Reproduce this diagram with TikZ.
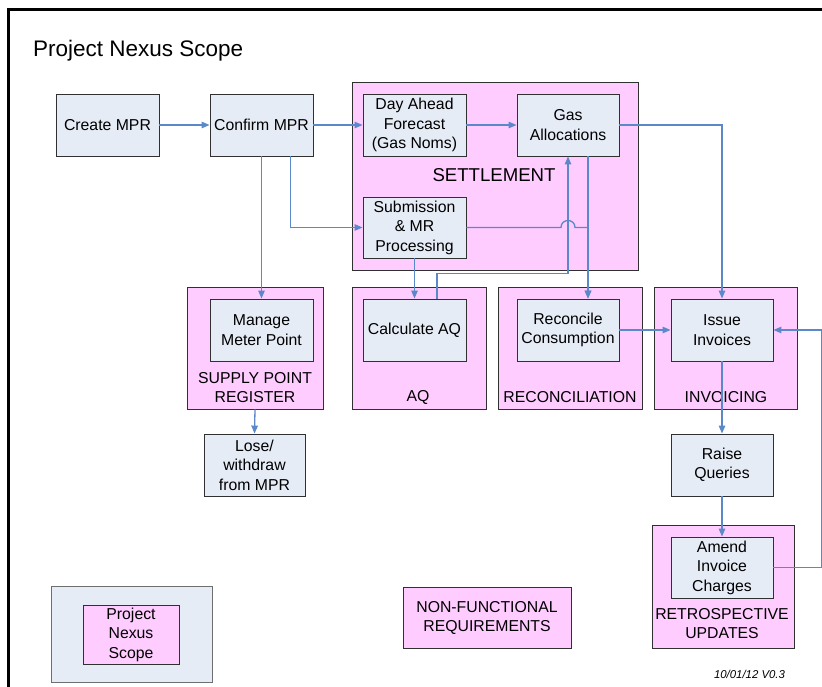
\documentclass[tikz,border=0pt]{standalone}
\usepackage{fontspec}
\setmainfont{Liberation Sans}
\usetikzlibrary{arrows.meta}
\definecolor{pinkfill}{HTML}{FFCCFF}
\definecolor{bluefill}{HTML}{E6ECF6}
\definecolor{conncol}{HTML}{5B88C8}
\definecolor{boxline}{HTML}{303030}
\begin{document}
\begin{tikzpicture}[x=1pt,y=-1pt,
  proc/.style={draw=boxline, line width=0.9pt, fill=bluefill, inner sep=0pt, align=center,
    font=\fontsize{15.8}{19.5}\selectfont, minimum width=103pt, minimum height=62pt},
  grp/.style={draw=boxline, line width=0.9pt, fill=pinkfill, inner sep=0pt, align=center,
    font=\fontsize{15.8}{19}\selectfont},
  lbl/.style={align=center, font=\fontsize{15.8}{19}\selectfont, inner sep=0pt},
  conn/.style={draw=conncol, line width=1.3pt, -{Triangle[length=8pt,width=6.5pt]}},
  link/.style={draw=conncol, line width=1.3pt}
]
\useasboundingbox (0,0) rectangle (822,687);
\fill[white] (0,0) rectangle (822,687);
\draw[line width=2.4pt] (8.5,700) -- (8.5,9.5) -- (840,9.5);

\node[anchor=base west, font=\fontsize{22.5}{27}\selectfont, inner sep=0pt] (title) at (33,57) {Project Nexus Scope};

% group boxes
\node[grp, minimum width=286pt, minimum height=188pt] (settle) at (495,176) {};
\node[lbl, font=\fontsize{18.6}{22}\selectfont] (settlelbl) at (494,175) {SETTLEMENT};
\node[grp, minimum width=136pt, minimum height=122pt] (spr) at (255,348) {};
\node[lbl] (sprlbl) at (255,388) {SUPPLY POINT\\REGISTER};
\node[grp, minimum width=134pt, minimum height=122pt] (aq) at (419,348) {};
\node[lbl] (aqlbl) at (418,397) {AQ};
\node[grp, minimum width=144pt, minimum height=122pt] (rec) at (570,348) {};
\node[lbl] (reclbl) at (570,397) {RECONCILIATION};
\node[grp, minimum width=143pt, minimum height=122pt] (inv) at (725.5,348) {};
\node[lbl] (invlbl) at (726,397) {INVOICING};
\node[grp, minimum width=142pt, minimum height=123pt] (retro) at (723,586.5) {};
\node[lbl] (retrolbl) at (722,624) {RETROSPECTIVE\\UPDATES};

% process boxes
\node[proc] (create) at (107.5,125) {Create MPR};
\node[proc] (confirm) at (261.5,125) {Confirm MPR};
\node[proc] (dayahead) at (414.5,125) {Day Ahead\\Forecast\\(Gas Noms)};
\node[proc, minimum width=102pt] (gas) at (568,125) {Gas\\Allocations};
\node[proc, minimum height=61pt] (submission) at (414.5,227.5) {Submission\\\& MR\\Processing};
\node[proc] (manage) at (261.5,330) {Manage\\Meter Point};
\node[proc] (calc) at (414.5,330) {Calculate AQ};
\node[proc, minimum width=102pt] (reconcile) at (568,330) {Reconcile\\Consumption};
\node[proc, minimum width=102pt] (issue) at (722,330) {Issue\\Invoices};
\node[proc, minimum width=102pt] (raise) at (722,465) {Raise\\Queries};
\node[proc, minimum width=102pt, minimum height=61pt] (amend) at (722,567.5) {Amend\\Invoice\\Charges};
\node[proc, minimum width=101pt] (lose) at (254.5,465) {Lose/\\withdraw\\from MPR};

% legend and NFR
\node[draw=boxline!70, line width=0.9pt, fill=bluefill, minimum width=161pt, minimum height=96pt, inner sep=0pt] (legend) at (131.5,634) {};
\node[grp, minimum width=96pt, minimum height=59pt, font=\fontsize{15.8}{19.5}\selectfont] (legendin) at (131,634.5) {Project\\Nexus\\Scope};
\node[grp, minimum width=168pt, minimum height=61pt] (nfr) at (487,617.5) {NON-FUNCTIONAL\\REQUIREMENTS};

\node[font=\itshape\fontsize{11.4}{13}\selectfont, inner sep=0pt] (date) at (749.5,674) {10/01/12 V0.3};

% connectors
\draw[conn] (create.east) -- (confirm.west);
\draw[conn] (confirm.east) -- (dayahead.west);
\draw[conn] (dayahead.east) -- (gas.west);
\draw[conn] (gas.east) -| (issue.north);
\draw[conn] (confirm.south) -- (manage.north);
\draw[conn] ([xshift=-23pt]confirm.south east) |- (submission.west);
\draw[conn] (submission.south) -- (calc.north);
\draw[conn] ([xshift=22.5pt]calc.north) -- ++(0,-25) -| (gas.south);
\draw[conn] ([xshift=20pt]gas.south) -- ([xshift=20pt]reconcile.north);
\draw[conn] (submission.east) -- (561,227.5) .. controls (561,218.2) and (575,218.2) .. (575,227.5)
   -- (588,227.5) -- ([xshift=20pt]reconcile.north);
\draw[conn] (reconcile.east) -- (issue.west);
\draw[conn] (issue.south) -- (raise.north);
\draw[conn] (raise.south) -- (amend.north);
\draw[conn] (amend.east) -- ++(48,0) |- (issue.east);
\draw[conn] (spr.south) -- (lose.north);
\end{tikzpicture}
\end{document}
